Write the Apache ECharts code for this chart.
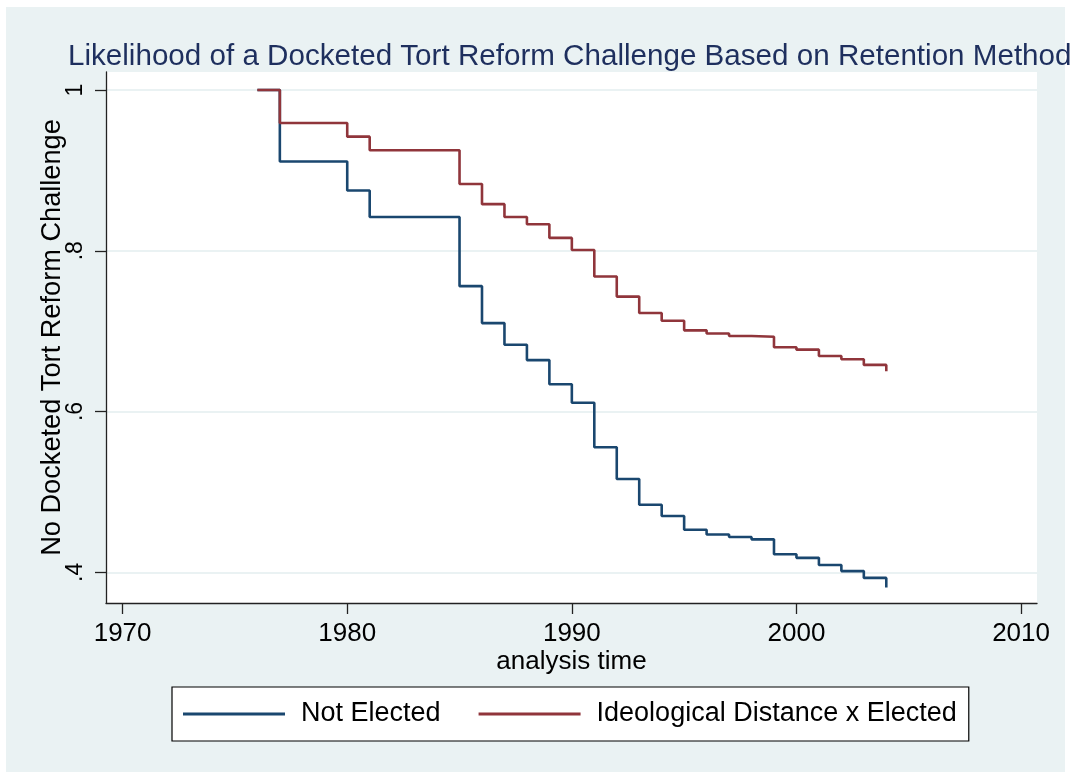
<!DOCTYPE html>
<html>
<head>
<meta charset="utf-8">
<script src="https://cdn.jsdelivr.net/npm/echarts@6/dist/echarts.min.js"></script>
<style>
html,body{margin:0;padding:0;background:#ffffff;}
#chart{width:1076px;height:772px;}
</style>
</head>
<body>
<div id="chart"></div>
<script>
// ---- data ----
const titleText = "Likelihood of a Docketed Tort Reform Challenge Based on Retention Method";
const xAxisTitle = "analysis time";
const yAxisTitle = "No Docketed Tort Reform Challenge";
const seriesNames = ["Not Elected", "Ideological Distance x Elected"];
const years = [1976,1977,1980,1981,1985,1986,1987,1988,1989,1990,1991,1992,1993,1994,1995,1996,1997,1998,1999,2000,2001,2002,2003,2004];
const notElected = [1,0.911,0.875,0.842,0.756,0.710,0.683,0.664,0.634,0.611,0.5555,0.516,0.484,0.470,0.453,0.447,0.444,0.441,0.4225,0.418,0.409,0.4015,0.393,0.381];
const ideoElected = [1,0.959,0.942,0.925,0.883,0.858,0.842,0.833,0.816,0.801,0.768,0.743,0.7225,0.713,0.701,0.697,0.694,0.693,0.680,0.677,0.669,0.665,0.658,0.650];
const xTicks = [1970,1980,1990,2000,2010];
const yTicks = [0.4,0.6,0.8,1];
const yTickLabels = [".4",".6",".8","1"];

const FONT = "'Liberation Sans', Arial, sans-serif";
const chart = echarts.init(document.getElementById('chart'), null, {renderer:'canvas'});

function pairs(xs, ys){ return xs.map((x,i)=>[x, ys[i]]); }

const option = {
  backgroundColor: '#ffffff',
  animation: false,
  graphic: [
    { type:'rect', z:-10, silent:true, shape:{x:6, y:7, width:1059, height:765}, style:{fill:'#eaf2f3'} }
  ],
  title: {
    text: titleText,
    left: 63, top: 37,
    textStyle: { fontFamily: FONT, fontSize: 29.6, fontWeight: 'normal', color: '#1e2f5e' }
  },
  grid: { left: 106, top: 72, right: 39, bottom: 169, containLabel: false, show: true, backgroundColor: '#ffffff', borderWidth: 0 },
  legend: {
    left: 172, top: 687,
    orient: 'horizontal',
    padding: [11, 12, 11, 11],
    itemGap: 38,
    itemWidth: 102, itemHeight: 3,
    icon: 'rect',
    backgroundColor: '#ffffff',
    borderColor: '#000000', borderWidth: 1.2, borderRadius: 0,
    textStyle: { fontFamily: FONT, fontSize: 27, color: '#000', padding: [0,0,0,11], lineHeight: 32 },
    data: seriesNames
  },
  xAxis: {
    type: 'value',
    min: 1969.26, max: 2010.71,
    name: xAxisTitle, nameLocation: 'middle', nameGap: 46, nameMoveOverlap: false,
    nameTextStyle: { fontFamily: FONT, fontSize: 26, color: '#000' },
    axisLine: { show: true, onZero: false, lineStyle: { color: '#222', width: 1.3 } },
    axisTick: { show: true, length: 11, customValues: xTicks, lineStyle: { color: '#222', width: 1.3 } },
    axisLabel: { customValues: xTicks, margin: 18, fontFamily: FONT, fontSize: 26, color: '#000',
      formatter: function(v){ return String(Math.round(v)); } },
    splitLine: { show: false }
  },
  yAxis: {
    type: 'value',
    min: 0.3618, max: 1.0224,
    name: yAxisTitle, nameLocation: 'middle', nameGap: 40, nameRotate: 90, nameMoveOverlap: false,
    nameTextStyle: { fontFamily: FONT, fontSize: 27.2, color: '#000' },
    axisLine: { show: true, onZero: false, lineStyle: { color: '#222', width: 1.3 } },
    axisTick: { show: true, length: 11, customValues: yTicks, lineStyle: { color: '#222', width: 1.3 } },
    axisLabel: {
      customValues: yTicks, rotate: 90, margin: 19, fontFamily: FONT, fontSize: 23, color: '#000',
      formatter: function(v){ const i = yTicks.findIndex(t => Math.abs(t - v) < 1e-6); return i >= 0 ? yTickLabels[i] : ''; }
    },
    splitLine: { show: true, lineStyle: { color: '#eaf2f3', width: 2 } }
  },
  series: [
    { name: seriesNames[0], type: 'line', step: 'end', symbol: 'none', data: pairs(years, notElected),
      lineStyle: { color: '#1a476f', width: 2.6 }, itemStyle: { color: '#1a476f' } },
    { name: seriesNames[1], type: 'line', step: 'end', symbol: 'none', data: pairs(years, ideoElected),
      lineStyle: { color: '#90353b', width: 2.6 }, itemStyle: { color: '#90353b' } }
  ]
};
chart.setOption(option);
</script>
</body>
</html>
